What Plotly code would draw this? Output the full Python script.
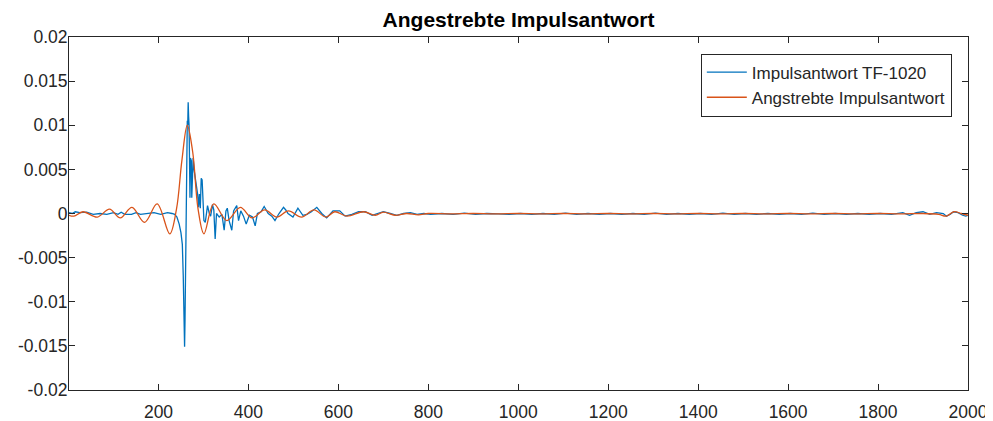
import plotly.graph_objects as go

# ---- data ----
meas_x = [1, 8, 15, 25, 40, 55, 70, 85, 100, 110, 117, 125, 140, 150, 160, 175, 190, 205, 220, 230, 236,
          241, 246, 250, 253, 255, 256, 257, 258, 259, 260, 261, 262, 263, 264, 265, 266, 267, 268, 269, 270,
          271, 273, 274, 276, 277, 279, 282, 285, 287, 289, 291, 293, 295, 297, 299, 301, 304, 309, 313, 316,
          320, 323, 326, 329, 335, 341, 346, 350, 353, 357, 363, 367, 374, 378, 383, 389, 395, 402, 409, 415,
          420, 428, 435, 444, 452, 459, 468, 478, 483, 488, 499, 510, 521, 530, 540, 552, 563, 574, 588, 603,
          615, 630, 645, 660, 675, 690, 700, 715, 730, 745, 760, 775, 790,
          805, 830, 855, 880, 905, 930, 955, 980, 1005, 1030, 1055, 1080, 1105, 1130, 1155, 1180, 1205, 1230,
          1255, 1280, 1305, 1330, 1355, 1380, 1405, 1430, 1455, 1480, 1505, 1530, 1555, 1580, 1605, 1630, 1655,
          1680, 1705, 1730, 1755, 1780, 1805, 1830, 1855, 1870, 1885, 1900, 1915, 1930, 1945, 1952, 1960, 1968,
          1978, 1988, 1995, 2000]
meas_y = [0.0001, 0.0, 0.0002, 0.0001, 0.00015, -0.0001, 0.0, -0.0001, 0.0001, -0.0001, 0.00015, -0.0001,
          -0.0001, 0.0001, -0.0001, 0.0, 0.0001, -0.0001, 0.0001, 0.0, -0.0001,
          -0.0004, -0.0012, -0.0022, -0.0035, -0.0070, -0.0120, -0.0145, -0.0151, -0.0120, -0.0076, -0.0020,
          0.0050, 0.0095, 0.0105, 0.0100, 0.0126, 0.0110, 0.0100, 0.0060, 0.0018,
          0.0063, 0.0060, 0.0018, 0.0040, 0.0063, 0.0050, 0.0041, 0.0030, 0.0022, 0.0007, 0.0022, 0.0006,
          0.0040, 0.0038, 0.0004, -0.0008, -0.0010, 0.0009, 0.0, -0.0003,
          0.0010, 0.0004, -0.0029, 0.0, -0.0004, -0.0001, -0.0019, 0.0003, 0.0006, -0.0008, -0.0019, 0.0003,
          0.0009, -0.0008, 0.0003, -0.0003, -0.0012, -0.0002, -0.0004, -0.0014,
          0.0, 0.0002, 0.0008, 0.0, -0.0003, -0.0008, 0.0, 0.0007, 0.0004, 0.0, -0.0004, 0.0006, -0.0002,
          -0.0001, 0.0002, 0.0007, 0.0, -0.0005, 0.0003, 0.0003,
          -0.0003, -0.0001, 0.0002, 0.0002, -0.0002, 0.0, 0.0002, 0.0, -0.0002, 0.0, 0.0001, -0.0001, 0.0,
          -0.0001, 0.0, -0.0001, 0.00005, -0.0001, 0.0, -0.00005, -0.0001, 0.0, -0.0001, 0.0, -0.0001, 0.00005,
          -0.0001, 0.0, -0.0001, 0.0, -0.0001, 0.0, -0.0001, 0.00005, -0.0001, 0.0, -0.0001, 0.0, -0.0001,
          0.00005, -0.0001, 0.0, -0.0001, 0.0, -0.0001, 0.0, -0.0001, 0.00005, -0.0001, 0.0, -0.0001, 0.0,
          -0.0001, 0.0, -0.0001, 0.0001, -0.0002, 0.0001, 0.0002, -0.0001, 0.0001, 0.0, -0.0003, -0.0001,
          0.0002, 0.0001, -0.0002, -0.0003, -0.0002]

target_x = [1, 12, 32, 64, 91, 115, 141, 169, 197, 225, 240, 252, 264, 276, 288, 301, 323, 352, 382, 408,
            436, 463, 489, 518, 546, 572, 592, 619, 656, 682, 700, 726, 752, 778, 800, 850, 900, 950, 1000,
            1050, 1100, 1150, 1200, 1250, 1300, 1350, 1400, 1450, 1500, 1550, 1600, 1650, 1700, 1750, 1800,
            1850, 1900, 1935, 1951, 1969, 1985, 2000]
target_y = [-0.0002, -0.0003, 0.0002, -0.0004, 0.0005, -0.0005, 0.0007, -0.0010, 0.0011, -0.0023, 0.0005,
            0.0060, 0.0100, 0.0070, 0.0005, -0.0023, 0.0011, -0.0008, 0.0007, -0.0005,
            0.0004, -0.0004, 0.0003, -0.0004, 0.0004, -0.0004, 0.0002, -0.0003, 0.0002, -0.0002, 0.00015,
            -0.0002, 0.0, -0.00015, 0.0, -0.00005, 0.0, -0.00005, 0.0,
            -0.00005, 0.0, -0.00005, 0.0, -0.00005, 0.0, -0.00005, 0.0, -0.00005, 0.0, -0.00005, 0.0,
            -0.00005, 0.0, -0.00005, 0.0, -0.00005, 0.0, -0.0001, -0.0003, 0.0002, 0.0, -0.0002]

series_names = ["Impulsantwort TF-1020", "Angstrebte Impulsantwort"]
x_ticks = [200, 400, 600, 800, 1000, 1200, 1400, 1600, 1800, 2000]
y_ticks = [-0.02, -0.015, -0.01, -0.005, 0, 0.005, 0.01, 0.015, 0.02]
y_tick_text = ["-0.02", "-0.015", "-0.01", "-0.005", "0", "0.005", "0.01", "0.015", "0.02"]
title_text = "Angestrebte Impulsantwort"

FONT = "Liberation Sans, Arial, Helvetica, sans-serif"
AX = "#262626"

fig = go.Figure()
fig.add_trace(go.Scatter(x=meas_x, y=meas_y, mode="lines", name=series_names[0],
                         line=dict(color="#0072BD", width=1.3)))
fig.add_trace(go.Scatter(x=target_x, y=target_y, mode="lines", name=series_names[1],
                         line=dict(color="#D95319", width=1.3, shape="spline", smoothing=1.0)))

axis_common = dict(showline=True, linecolor=AX, linewidth=1, mirror="ticks", ticks="inside",
                   ticklen=6, tickcolor=AX, tickwidth=1, showgrid=False, zeroline=False,
                   tickfont=dict(family=FONT, size=17.5, color=AX))

fig.update_xaxes(range=[1, 2000], tickvals=x_ticks, ticktext=[str(v) for v in x_ticks],
                 ticklabelstandoff=6, **axis_common)
fig.update_yaxes(range=[-0.02, 0.02], tickvals=y_ticks, ticktext=y_tick_text,
                 ticklabelstandoff=-3, **axis_common)

# page body has an 8px margin, so the figure is drawn 8px right/down of the window corner
fig.update_layout(
    width=985, height=413,
    margin=dict(l=61, r=25, t=29, b=31, autoexpand=False),
    paper_bgcolor="white", plot_bgcolor="white",
    title=dict(text="<b>" + title_text + "</b>", x=0.5, xref="paper", xanchor="center",
               y=0.971, yanchor="middle", yref="container",
               font=dict(family=FONT, size=21, color="black")),
    legend=dict(x=0.982, xanchor="right", y=0.953, yanchor="top", bgcolor="white",
                bordercolor=AX, borderwidth=1, font=dict(family=FONT, size=17, color=AX),
                tracegroupgap=0, itemwidth=40),
    showlegend=True,
)

fig.write_html("out.html")
